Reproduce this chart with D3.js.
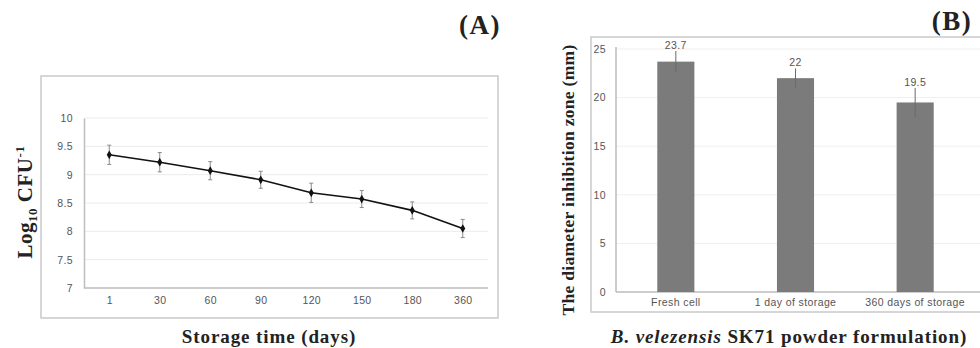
<!DOCTYPE html>
<html lang="en">
<head>
<meta charset="UTF-8" />
<title>Storage viability and inhibition zone</title>
<style>
body { margin: 0; background: #fff; }
svg { display: block; }
.tick text { font-family: "Liberation Sans", Arial, sans-serif; font-size: 10.5px; fill: #555; letter-spacing: 0.4px; }
.ttl { font-family: "Liberation Serif", "Times New Roman", serif; font-weight: bold; fill: #222; }
</style>
</head>
<body>
<svg id="chart" width="980" height="348"></svg>
<script src="https://cdn.jsdelivr.net/npm/d3@7/dist/d3.min.js"></script>
<script>
// panel A - viable count during storage
const days = ['1', '30', '60', '90', '120', '150', '180', '360'];
const logCfu = [9.35, 9.22, 9.07, 8.91, 8.68, 8.57, 8.37, 8.05];
const logErr = [0.17, 0.17, 0.16, 0.15, 0.17, 0.15, 0.15, 0.16];
const logTicks = [7, 7.5, 8, 8.5, 9, 9.5, 10];

// panel B - inhibition zone
const samples = ['Fresh cell', '1 day of storage', '360 days of storage'];
const zone = [23.7, 22, 19.5];
const zoneErr = [1.1, 1.0, 1.5];
const zoneTicks = [0, 5, 10, 15, 20, 25];

const svg = d3.select('#chart');

// ---------- A ----------
const gA = svg.append('g');
gA.append('rect').attr('x', 41).attr('y', 76).attr('width', 457).attr('height', 242)
  .attr('fill', 'none').attr('stroke', '#c9c9c9').attr('stroke-width', 1.5);

const xA = d3.scalePoint().domain(days).range([84, 488]).padding(0.5);
const yA = d3.scaleLinear().domain([7, 10]).range([288, 118]);

gA.append('g').selectAll('line').data(logTicks.slice(1)).join('line')
  .attr('x1', 84).attr('x2', 488).attr('y1', d => yA(d)).attr('y2', d => yA(d))
  .attr('stroke', '#ececec');

const axA = gA.append('g').attr('transform', 'translate(84,0)')
  .call(d3.axisLeft(yA).tickValues(logTicks).tickSize(0).tickPadding(11).tickFormat(d3.format('')));
axA.select('.domain').attr('stroke', '#bdbdbd').attr('stroke-width', 1.5);

const axAx = gA.append('g').attr('transform', 'translate(0,288)')
  .call(d3.axisBottom(xA).tickSize(0).tickPadding(9));
axAx.select('.domain').attr('d', 'M84,0H488').attr('stroke', '#bdbdbd').attr('stroke-width', 1.5);

const ptsA = days.map((d, i) => ({ d, v: logCfu[i], e: logErr[i] }));
const eb = gA.append('g').attr('stroke', '#8a8a8a').attr('stroke-width', 1);
eb.selectAll('line.v').data(ptsA).join('line').attr('class', 'v')
  .attr('x1', p => xA(p.d)).attr('x2', p => xA(p.d))
  .attr('y1', p => yA(p.v + p.e)).attr('y2', p => yA(p.v - p.e));
eb.selectAll('line.t').data(ptsA).join('line').attr('class', 't')
  .attr('x1', p => xA(p.d) - 2).attr('x2', p => xA(p.d) + 2)
  .attr('y1', p => yA(p.v + p.e)).attr('y2', p => yA(p.v + p.e));
eb.selectAll('line.b').data(ptsA).join('line').attr('class', 'b')
  .attr('x1', p => xA(p.d) - 2).attr('x2', p => xA(p.d) + 2)
  .attr('y1', p => yA(p.v - p.e)).attr('y2', p => yA(p.v - p.e));

gA.append('path').datum(ptsA)
  .attr('d', d3.line().x(p => xA(p.d)).y(p => yA(p.v)))
  .attr('fill', 'none').attr('stroke', '#111').attr('stroke-width', 1.6);
gA.selectAll('path.mk').data(ptsA).join('path').attr('class', 'mk')
  .attr('d', d3.symbol(d3.symbolDiamond, 22))
  .attr('transform', p => `translate(${xA(p.d)},${yA(p.v)})`).attr('fill', '#111');

gA.append('text').attr('class', 'ttl').attr('x', 480).attr('y', 34)
  .attr('text-anchor', 'middle').attr('font-size', 27).attr('letter-spacing', 1.5).text('(A)');
gA.append('text').attr('class', 'ttl').attr('x', 269).attr('y', 343)
  .attr('text-anchor', 'middle').attr('font-size', 19).attr('letter-spacing', 0.9).text('Storage time (days)');
const yTitA = gA.append('text').attr('class', 'ttl').attr('font-size', 21).attr('letter-spacing', 0.5)
  .attr('text-anchor', 'middle').attr('transform', 'translate(32,202) rotate(-90)');
yTitA.append('tspan').text('Log');
yTitA.append('tspan').attr('font-size', 13).attr('dy', 5).text('10');
yTitA.append('tspan').attr('dy', -5).text(' CFU');
yTitA.append('tspan').attr('font-size', 13).attr('dy', -8).text('-1');

// ---------- B ----------
const gB = svg.append('g');
gB.append('path').attr('d', 'M980,37H591V312H980')
  .attr('fill', 'none').attr('stroke', '#c9c9c9').attr('stroke-width', 1.5);

const xB = d3.scaleBand().domain(samples).range([616, 975]).paddingInner(0.69).paddingOuter(0.345);
const yB = d3.scaleLinear().domain([0, 25]).range([292, 49]);

gB.append('g').selectAll('line').data(zoneTicks.slice(1)).join('line')
  .attr('x1', 616).attr('x2', 980).attr('y1', d => yB(d)).attr('y2', d => yB(d))
  .attr('stroke', '#efefef');

const axB = gB.append('g').attr('transform', 'translate(616,0)')
  .call(d3.axisLeft(yB).tickValues(zoneTicks).tickSize(0).tickPadding(10));
axB.select('.domain').attr('d', 'M0,292V47').attr('stroke', '#bdbdbd').attr('stroke-width', 1.5);

const axBx = gB.append('g').attr('transform', 'translate(0,292)')
  .call(d3.axisBottom(xB).tickSize(0).tickPadding(7));
axBx.select('.domain').attr('d', 'M616,0H980').attr('stroke', '#bdbdbd').attr('stroke-width', 1.5);

const ptsB = samples.map((s, i) => ({ s, v: zone[i], e: zoneErr[i] }));
gB.selectAll('rect.bar').data(ptsB).join('rect').attr('class', 'bar')
  .attr('x', p => xB(p.s)).attr('width', xB.bandwidth())
  .attr('y', p => yB(p.v)).attr('height', p => yB(0) - yB(p.v))
  .attr('fill', '#7b7b7b');
gB.selectAll('line.err').data(ptsB).join('line').attr('class', 'err')
  .attr('x1', p => xB(p.s) + xB.bandwidth() / 2).attr('x2', p => xB(p.s) + xB.bandwidth() / 2)
  .attr('y1', p => yB(p.v + p.e)).attr('y2', p => yB(p.v - p.e))
  .attr('stroke', '#6a6a6a').attr('stroke-width', 1);
gB.selectAll('text.val').data(ptsB).join('text').attr('class', 'val')
  .attr('x', p => xB(p.s) + xB.bandwidth() / 2).attr('y', p => yB(p.v + p.e) - 2)
  .attr('text-anchor', 'middle')
  .attr('font-family', '"Liberation Sans", Arial, sans-serif').attr('font-size', 10.5)
  .attr('letter-spacing', 0.4).attr('fill', '#555')
  .text(p => p.v);

gB.append('text').attr('class', 'ttl').attr('x', 952).attr('y', 30)
  .attr('text-anchor', 'middle').attr('font-size', 27).attr('letter-spacing', 1.5).text('(B)');
gB.append('text').attr('class', 'ttl').attr('font-size', 17.5).attr('letter-spacing', 0.3)
  .attr('text-anchor', 'middle')
  .attr('transform', 'translate(574,180) rotate(-90)').text('The diameter inhibition zone (mm)');
const xTitB = gB.append('text').attr('class', 'ttl').attr('x', 789).attr('y', 343)
  .attr('text-anchor', 'middle').attr('font-size', 19).attr('letter-spacing', 0.9);
xTitB.append('tspan').attr('font-style', 'italic').text('B. velezensis');
xTitB.append('tspan').text(' SK71 powder formulation)');
</script>
</body>
</html>
